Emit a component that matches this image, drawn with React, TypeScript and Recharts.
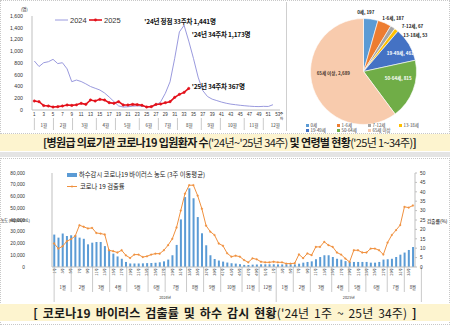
import React from "react";
import {
  Bar,
  Cell,
  ComposedChart,
  Legend,
  Line,
  LineChart,
  Pie,
  PieChart,
  ReferenceDot,
  XAxis,
  YAxis,
} from "recharts";

const KR = "'Noto Sans CJK KR', sans-serif";
const NUM = "'Liberation Sans', Arial, sans-serif";

// ---- top left: hospitalised patients per week ('24 vs '25)
const weeksTop = Array.from({ length: 53 }, (_, i) => i + 1);
const weekTicksTop = weeksTop.filter((w) => w % 2 === 1);
const hosp2024 = [
  834, 740, 805, 822, 862, 790, 805, 700, 482, 510, 485, 445, 400, 370, 340, 290, 220, 145, 70, 50,
  55, 65, 70, 65, 55, 60, 80, 140, 285, 480, 880, 1330, 1441, 1173, 880, 560, 330, 230, 185, 160,
  135, 115, 100, 90, 80, 72, 65, 60, 58, 62, 60, 90,
];
const hosp2025 = [
  153, 142, 75, 68, 50, 57, 68, 85, 78, 88, 113, 96, 170, 153, 181, 170, 125, 113, 142, 85, 85, 96,
  91, 80, 51, 57, 96, 102, 125, 142, 215, 266, 300, 367,
];
const hospTicks = [0, 200, 400, 600, 800, 1000, 1200, 1400, 1600];
const monthNames = ["1월", "2월", "3월", "4월", "5월", "6월", "7월", "8월", "9월", "10월", "11월", "12월"];
const topMonthWeeks = [4, 4, 5, 4, 5, 4, 4, 5, 4, 5, 4, 5];

// ---- top right: age groups ('25 wk 1-34)
const ageNames = ["0세", "1-6세", "7-12세", "13-18세", "19-49세", "50-64세", "65세 이상"];
const ageCounts = [197, 187, 67, 53, 461, 815, 2689];
const ageColors = ["#5b9bd5", "#ed7d31", "#a5a5a5", "#ffc000", "#4472c4", "#70ad47", "#f8cbad"];

// ---- bottom: sewage concentration + detection rate, '24 w1 .. '25 w34
const sewer2024 = [
  27600, 25000, 28500, 26400, 27000, 27000, 25000, 24000, 19300, 20700, 21300, 21300, 17800, 14200,
  11400, 9000, 7000, 4300, 3000, 3000, 3000, 3100, 3300, 3400, 3600, 4000, 4800, 6300, 10000, 18800,
  40500, 59500, 67000, 58500, 42500, 28700, 18500, 10000, 6800, 5500, 4600, 3800, 3200, 2900, 2400,
  1800, 1700, 2000, 2200, 2300, 2300, 2300,
];
const sewer2025 = [
  2300, 2200, 2200, 2300, 2300, 2200, 2800, 3700, 4300, 4800, 6600, 8500, 10000, 10000, 8500, 7000,
  6300, 5000, 4300, 4300, 4300, 4300, 4300, 3700, 3700, 4300, 6300, 6600, 7000, 8500, 10500, 12300,
  14500, 17000,
];
const rate2024 = [
  12.5, 9.8, 11, 13.7, 14.8, 16.5, 22.2, 21.4, 20.5, 20.8, 18.1, 17.8, 17.3, 8.9, 8.4, 7.7, 8.9, 6.2,
  4.8, 6.6, 6.6, 5.3, 5.7, 6.6, 7.1, 7.1, 8.9, 11.6, 15, 21, 30, 39, 43.5, 43.5, 38, 31, 22, 18.8, 17,
  12.5, 11.3, 7.3, 5.5, 6, 5.5, 3.7, 2.5, 4.6, 4.1, 2.8, 2.5, 2.5,
];
const rate2025 = [
  2.8, 2.5, 2.5, 1.8, 1.8, 2.0, 6.7, 4.7, 7.2, 6.3, 10.7, 10.7, 13.4, 11.6, 10.7, 7.7, 6.6, 4.5, 2.7,
  8.9, 8.9, 7.7, 7.7, 9.8, 9.8, 8.9, 6.6, 13, 17, 19.6, 22.3, 32, 31.6, 32.7,
];
const months2024Weeks = [4, 5, 4, 4, 5, 4, 5, 4, 4, 5, 4, 4];
const months2025Weeks = [4, 4, 5, 4, 4, 5, 4, 4];
const yearNames = ["2024년", "2025년"];
const concTicks = [0, 10000, 20000, 30000, 40000, 50000, 60000, 70000, 80000];
const rateTicks = [0, 5, 10, 15, 20, 25, 30, 35, 40, 45, 50];

const BAR = "#5b9bd5";
const RATE = "#f0913f";
const LILAC = "#9a9ade";
const RED = "#e3101a";
const AXIS = "#bfbfbf";

const hospRows = weeksTop.map((w, i) => ({
  w,
  y24: hosp2024[i] ?? null,
  y25: hosp2025[i] ?? null,
}));
const ageRows = ageNames.map((name, i) => ({ name, v: ageCounts[i] }));
const sewerWeeks = [...sewer2024.map((_, i) => i + 1), ...sewer2025.map((_, i) => i + 1)];
const sewerRows = [...sewer2024, ...sewer2025].map((c, i) => ({
  k: i + 1,
  wk: sewerWeeks[i],
  c,
  r: [...rate2024, ...rate2025][i],
}));

type Mark = { v: number; t: string; sep: boolean };
function bandMarks(labels: string[], counts: number[], start = 0.5): Mark[] {
  const out: Mark[] = [{ v: start, t: "", sep: true }];
  let cur = start;
  labels.forEach((t, i) => {
    out.push({ v: cur + counts[i] / 2, t, sep: false });
    cur += counts[i];
    out.push({ v: cur, t: "", sep: true });
  });
  return out;
}
const topMonths = bandMarks(monthNames, topMonthWeeks);
const botMonths = bandMarks([...monthNames, ...monthNames.slice(0, 8)], [...months2024Weeks, ...months2025Weeks]);
const botYears = bandMarks(yearNames, [sewer2024.length, sewer2025.length]);

const comma = (v: number) => v.toLocaleString("en-US");

function BandTick(props: any) {
  const { x, y, payload, marks, up = 0, down, size = 4.5 } = props;
  const m = (marks as Mark[]).find((t) => Math.abs(t.v - payload.value) < 1e-6);
  if (!m) return null;
  if (m.sep)
    return <line x1={x} x2={x} y1={y - up} y2={y + down} stroke="#a6a6a6" strokeWidth={0.6} />;
  return (
    <text x={x} y={y + down / 2} textAnchor="middle" dominantBaseline="central" fontSize={size} fontFamily={KR} fill="#333">
      {m.t}
    </text>
  );
}

function WeekTick(props: any) {
  const { x, y, payload } = props;
  const row = sewerRows[payload.value - 1];
  return (
    <text
      transform={`translate(${x},${y + 1}) rotate(-90)`}
      textAnchor="end"
      dominantBaseline="central"
      fontSize={3.8}
      fontFamily={KR}
      fill="#333"
    >
      {row ? `${row.wk}주` : ""}
    </text>
  );
}

function Note(props: any) {
  const { viewBox, dx = 0, dy = 0, text, size = 6, weight = 700, anchor = "start", fill = "#111", angle = 0 } = props;
  const x = viewBox.x + dx;
  const y = viewBox.y + dy;
  return (
    <g transform={`translate(${x},${y}) rotate(${angle})`}>
      <text
        x={0}
        y={0}
        textAnchor={anchor}
        dominantBaseline="central"
        fontSize={size}
        fontWeight={weight}
        fontFamily={KR}
        fill={fill}
        letterSpacing={-0.2}
      >
        {text}
      </text>
    </g>
  );
}

// unit of the week axis, two glyphs stacked
function WeekUnit(props: any) {
  const { viewBox } = props;
  const x = viewBox.x + viewBox.width + 1.5;
  return (
    <text x={x} y={viewBox.y + 5} textAnchor="middle" fontSize={3.8} fontFamily={KR} fill="#333">
      <tspan x={x} dy={0}>주</tspan>
      <tspan x={x} dy={4.5}>차</tspan>
    </text>
  );
}

function HospLegend() {
  return (
    <svg width={70} height={10} style={{ display: "block" }}>
      <line x1={0} x2={13} y1={5} y2={5} stroke={LILAC} strokeWidth={1} />
      <text x={15} y={5} dominantBaseline="central" fontSize={7.5} fontFamily={NUM} fill="#333">2024</text>
      <line x1={34} x2={47} y1={5} y2={5} stroke={RED} strokeWidth={1.6} />
      <circle cx={40.5} cy={5} r={1.4} fill={RED} />
      <text x={49} y={5} dominantBaseline="central" fontSize={7.5} fontFamily={NUM} fill="#333">2025</text>
    </svg>
  );
}

function AgeLegend() {
  const rows = [ageNames.slice(0, 4), ageNames.slice(4)];
  return (
    <div style={{ fontFamily: KR, fontSize: 4.4, color: "#444", lineHeight: "5.2px" }}>
      {rows.map((r, ri) => (
        <div key={ri} style={{ display: "flex" }}>
          {r.map((n) => (
            <div key={n} style={{ width: 31, display: "flex", alignItems: "center" }}>
              <span style={{ width: 3, height: 3, background: ageColors[ageNames.indexOf(n)], marginRight: 1.5, display: "inline-block" }} />
              {n}
            </div>
          ))}
        </div>
      ))}
    </div>
  );
}

function SewerLegend() {
  return (
    <div style={{ fontFamily: KR, fontSize: 6.3, color: "#222", lineHeight: "11.7px", whiteSpace: "nowrap" }}>
      <div style={{ display: "flex", alignItems: "center" }}>
        <span style={{ display: "inline-block", width: 10, height: 3.5, background: BAR, marginRight: 2 }} />
        하수감시 코로나19 바이러스 농도 (3주 이동평균)
      </div>
      <div style={{ display: "flex", alignItems: "center" }}>
        <svg width={12} height={5} style={{ marginRight: 1 }}>
          <line x1={0} x2={10} y1={2.5} y2={2.5} stroke={RATE} strokeWidth={1} />
          <circle cx={5} cy={2.5} r={1} fill={RATE} />
        </svg>
        코로나 19 검출률
      </div>
    </div>
  );
}

// label placement per slice: radius factor, anchor, nudges, text colour
const pieLabelStyle = [
  { f: 1.13, a: "middle", dx: -6, dy: 0, c: "#222" },
  { f: 1.13, a: "start", dx: -5, dy: 1, c: "#222" },
  { f: 1.13, a: "start", dx: 5, dy: 4, c: "#222" },
  { f: 1.13, a: "start", dx: 2.5, dy: 10.7, c: "#222" },
  { f: 0.72, a: "middle", dx: 4, dy: 1, c: "#fff" },
  { f: 0.7, a: "middle", dx: 0, dy: -6.7, c: "#fff" },
  { f: 0.6, a: "middle", dx: 0, dy: -8.6, c: "#4a3a30" },
];
function pieLabel(p: any) {
  const s = pieLabelStyle[p.index];
  const rad = (-p.midAngle * Math.PI) / 180;
  const r = p.outerRadius * s.f;
  const x = p.cx + r * Math.cos(rad) + s.dx;
  const y = p.cy + r * Math.sin(rad) + s.dy;
  return (
    <text key={p.index} x={x} y={y} textAnchor={s.a} dominantBaseline="central" fontSize={4.5} fontWeight={700} fontFamily={KR} fill={s.c}>
      {`${p.name}, ${comma(p.value)}`}
    </text>
  );
}

const banner: React.CSSProperties = {
  position: "absolute",
  left: 0,
  width: 450,
  boxSizing: "border-box",
  background: "#fdf4cf",
  fontFamily: KR,
  color: "#1a1a1a",
  textAlign: "center",
  whiteSpace: "nowrap",
};

export default function App() {
  return (
    <div style={{ position: "relative", width: 450, height: 325, background: "#fff", overflow: "hidden" }}>
      <style>{"body{margin:0}"}</style>
      <div style={{ position: "absolute", left: 0, top: 0, width: 448, height: 132, border: "1px dotted #c8c8c8" }} />
      <div style={{ position: "absolute", left: 286, top: 2, width: 1, height: 129, background: "#cfcfcf" }} />

      <div style={{ position: "absolute", left: 0, top: 0 }}>
        <LineChart width={286} height={133} data={hospRows} margin={{ top: 16, right: 6, bottom: 2, left: 0 }}>
          <XAxis
            dataKey="w"
            type="number"
            domain={[0.5, 53.5]}
            ticks={weekTicksTop}
            interval={0}
            height={9}
            tickSize={0}
            tickMargin={2.5}
            tickLine={false}
            axisLine={{ stroke: AXIS }}
            tick={{ fontSize: 4.5, fill: "#333", fontFamily: NUM }}
            label={<WeekUnit />}
          />
          <XAxis
            xAxisId="m"
            type="number"
            domain={[0.5, 53.5]}
            allowDataOverflow
            ticks={topMonths.map((m) => m.v)}
            interval={0}
            height={12}
            tickSize={0}
            tickMargin={0}
            tickLine={false}
            axisLine={false}
            tick={<BandTick marks={topMonths} up={1} down={11} size={4.5} />}
          />
          <YAxis
            domain={[0, 1600]}
            ticks={hospTicks}
            interval={0}
            width={32}
            tickSize={0}
            tickMargin={9}
            tickLine={false}
            axisLine={{ stroke: AXIS }}
            tickFormatter={comma}
            tick={{ fontSize: 5.2, fill: "#333", fontFamily: NUM }}
            label={<Note text="(명)" size={4.5} weight={400} dx={21} dy={-7} />}
          />
          <Legend
            verticalAlign="middle"
            align="center"
            content={() => <HospLegend />}
            wrapperStyle={{ left: 55, top: 15, width: 70 }}
          />
          <Line dataKey="y24" stroke={LILAC} strokeWidth={1} dot={false} isAnimationActive={false} />
          <Line
            dataKey="y25"
            stroke={RED}
            strokeWidth={1.6}
            dot={{ r: 1.2, fill: RED, stroke: RED, strokeWidth: 0.5 }}
            isAnimationActive={false}
          />
          <ReferenceDot x={33} y={1441} r={0} label={<Note text="'24년 정점 33주차 1,441명" size={6.5} anchor="middle" dx={-4} dy={-4.8} />} />
          <ReferenceDot x={34} y={1173} r={0} label={<Note text="'24년 34주차 1,173명" size={6.5} dx={3} dy={-6.8} />} />
          <ReferenceDot x={34} y={367} r={0} label={<Note text="'25년 34주차 367명" size={6.5} dx={3} dy={-2.4} />} />
        </LineChart>
      </div>

      <div style={{ position: "absolute", left: 288, top: 0 }}>
        <PieChart width={162} height={134}>
          <Pie
            data={ageRows}
            dataKey="v"
            nameKey="name"
            cx={70.5}
            cy={66.5}
            outerRadius={53}
            startAngle={90}
            endAngle={-270}
            stroke="#fff"
            strokeWidth={0.6}
            label={pieLabel}
            labelLine={false}
            isAnimationActive={false}
          >
            {ageRows.map((r, i) => (
              <Cell key={r.name} fill={ageColors[i]} />
            ))}
          </Pie>
          <Legend
            verticalAlign="middle"
            align="center"
            content={() => <AgeLegend />}
            wrapperStyle={{ left: 18, top: 123, width: 140 }}
          />
        </PieChart>
      </div>

      <div style={{ ...banner, top: 134, height: 17, lineHeight: "17px", fontSize: 11, letterSpacing: -0.63, paddingLeft: 9 }}>
        <b>[병원급 의료기관 코로나19 입원환자 수</b>('24년~'25년 34주) <b>및 연령별 현황</b>('25년 1~34주)<b>]</b>
      </div>
      <div style={{ position: "absolute", left: 0, top: 152, width: 450, height: 5, background: "#e4e4e4" }} />

      <div style={{ position: "absolute", left: 0, top: 158, width: 448, height: 165, border: "1px dotted #c8c8c8" }} />
      <div style={{ position: "absolute", left: 0, top: 160 }}>
        <ComposedChart width={450} height={143} data={sewerRows} margin={{ top: 13, right: 5, bottom: 1, left: 2 }} barCategoryGap="30%">
          <XAxis
            dataKey="k"
            type="category"
            interval={1}
            height={15}
            tickSize={0}
            tickMargin={0}
            tickLine={false}
            axisLine={{ stroke: AXIS }}
            tick={<WeekTick />}
          />
          <XAxis
            xAxisId="m"
            type="number"
            domain={[0.5, 86.5]}
            allowDataOverflow
            ticks={botMonths.map((m) => m.v)}
            interval={0}
            height={10}
            tickSize={0}
            tickMargin={0}
            tickLine={false}
            axisLine={false}
            tick={<BandTick marks={botMonths} up={15} down={10} size={4.3} />}
          />
          <XAxis
            xAxisId="y"
            type="number"
            domain={[0.5, 86.5]}
            allowDataOverflow
            ticks={botYears.map((m) => m.v)}
            interval={0}
            height={10}
            tickSize={0}
            tickMargin={0}
            tickLine={false}
            axisLine={false}
            tick={<BandTick marks={botYears} up={0} down={10} size={3.8} />}
          />
          <YAxis
            yAxisId="c"
            domain={[0, 80000]}
            ticks={concTicks}
            interval={0}
            width={50}
            tickSize={0}
            tickMargin={27}
            tickLine={false}
            axisLine={{ stroke: AXIS }}
            tickFormatter={comma}
            tick={{ fontSize: 4.8, fill: "#333", fontFamily: NUM }}
            label={<Note text="바이러스 농도 (copies/mL)" size={4.2} weight={400} angle={-90} anchor="middle" dx={5.5} dy={47} />}
          />
          <YAxis
            yAxisId="r"
            orientation="right"
            domain={[0, 50]}
            ticks={rateTicks}
            interval={0}
            width={30}
            tickSize={2}
            tickMargin={3}
            tickLine={{ stroke: AXIS }}
            axisLine={{ stroke: AXIS }}
            tick={{ fontSize: 4.8, fill: "#333", fontFamily: NUM }}
            label={<Note text="검출률(%)" size={5} weight={400} angle={90} anchor="middle" dx={22} dy={47} />}
          />
          <Legend
            verticalAlign="middle"
            align="center"
            content={() => <SewerLegend />}
            wrapperStyle={{ left: 67, top: 9, width: 170 }}
          />
          <Bar yAxisId="c" dataKey="c" fill={BAR} isAnimationActive={false} />
          <Line
            yAxisId="r"
            dataKey="r"
            stroke={RATE}
            strokeWidth={1}
            dot={{ r: 0.9, fill: RATE, stroke: RATE, strokeWidth: 0.3 }}
            isAnimationActive={false}
          />
        </ComposedChart>
      </div>

      <div style={{ ...banner, top: 304, height: 17, lineHeight: "17px", fontSize: 12, letterSpacing: 0.15, wordSpacing: 2 }}>
        <b>[ 코로나19 바이러스 검출률 및 하수 감시 현황</b>('24년 1주 ~ 25년 34주) <b>]</b>
      </div>
    </div>
  );
}
